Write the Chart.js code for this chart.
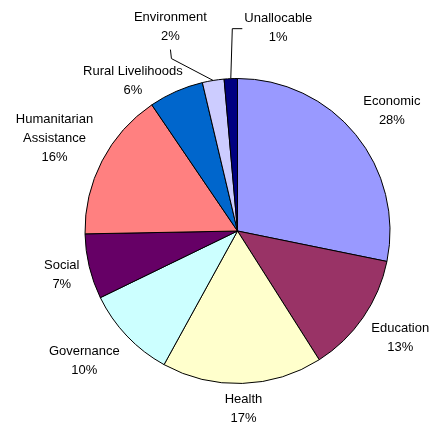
<!DOCTYPE html>
<html><head><meta charset="utf-8">
<script src="https://cdn.jsdelivr.net/npm/chart.js@4"></script>
<style>html,body{margin:0;padding:0;background:#fff}#wrap{width:432px;height:423px;position:relative}</style>
</head><body><div id="wrap"><canvas id="c" width="432" height="423"></canvas></div>
<script>
// ---- data ----
const categories = ['Economic','Education','Health','Governance','Social','Humanitarian\nAssistance','Rural Livelihoods','Environment','Unallocable'];
const shares = [28.2, 12.8, 17.0, 9.8, 6.9, 15.8, 5.8, 2.3, 1.4];

// ---- styles / layout (kept apart from data) ----
const sliceColors = ['#9999FF','#993366','#FFFFCC','#CCFFFF','#660066','#FF8080','#0066CC','#CCCCFF','#000080'];
const labelShift = [[0,0],[0,0],[0,-3],[0,0],[0,0],[0,0],[-11,18],[-33,-25],[50,-22]];
const leaderAnchor = [null,null,null,null,null,null,null,'bottom','left'];
const FONT = '13px "Liberation Sans", Arial, sans-serif';
const LINE_H = 19;

const total = shares.reduce((a,b)=>a+b,0);
const pctText = shares.map(v => Math.round(v/total*100) + '%');

const labelPlugin = {
  id: 'pieLabels',
  afterDatasetsDraw(chart) {
    const ctx = chart.ctx;
    const meta = chart.getDatasetMeta(0);
    ctx.save();
    ctx.font = FONT;
    ctx.fillStyle = '#000';
    ctx.strokeStyle = '#000';
    ctx.lineWidth = 1;
    ctx.textAlign = 'center';
    ctx.textBaseline = 'middle';
    meta.data.forEach((arc, i) => {
      const p = arc.getProps(['x','y','startAngle','endAngle','outerRadius'], true);
      const mid = (p.startAngle + p.endAngle) / 2;
      const ux = Math.cos(mid), uy = Math.sin(mid);
      const gap = 10;
      const px = p.x + (p.outerRadius + gap) * ux;
      const py = p.y + (p.outerRadius + gap) * uy;
      const lines = categories[i].split('\n').concat([pctText[i]]);
      const w = Math.max(...lines.map(t => ctx.measureText(t).width));
      const h = lines.length * LINE_H;
      const cl = v => Math.max(-1, Math.min(1, v));
      const cx = px + w/2 * cl(1.4*ux) + labelShift[i][0];
      const cy = py + h/2 * cl(1.4*uy) + labelShift[i][1];
      if (leaderAnchor[i]) {
        const ex = p.x + p.outerRadius * ux, ey = p.y + p.outerRadius * uy;
        let ax, ay, bx, by;
        if (leaderAnchor[i] === 'bottom') {
          ax = cx; ay = cy + h/2 + 4; bx = ax + 1; by = ay + 9;
        } else {
          ax = cx - w/2 - 2; ay = cy + 1; bx = ax - 10; by = ay;
        }
        ctx.beginPath();
        ctx.moveTo(ex, ey); ctx.lineTo(bx, by); ctx.lineTo(ax, ay);
        ctx.stroke();
      }
      lines.forEach((t, k) => {
        ctx.fillText(t, cx, cy - h/2 + LINE_H/2 + k*LINE_H);
      });
    });
    ctx.restore();
  }
};

new Chart(document.getElementById('c'), {
  type: 'pie',
  data: {
    labels: categories.map(c => c.replace('\n',' ')),
    datasets: [{
      data: shares,
      backgroundColor: sliceColors,
      borderColor: '#000',
      borderWidth: 1
    }]
  },
  options: {
    responsive: false,
    animation: false,
    devicePixelRatio: 1,
    layout: { padding: { left: 84.5, right: 41.5, top: 78, bottom: 39 } },
    plugins: { legend: { display: false }, tooltip: { enabled: false } }
  },
  plugins: [labelPlugin]
});
</script>
</body></html>
